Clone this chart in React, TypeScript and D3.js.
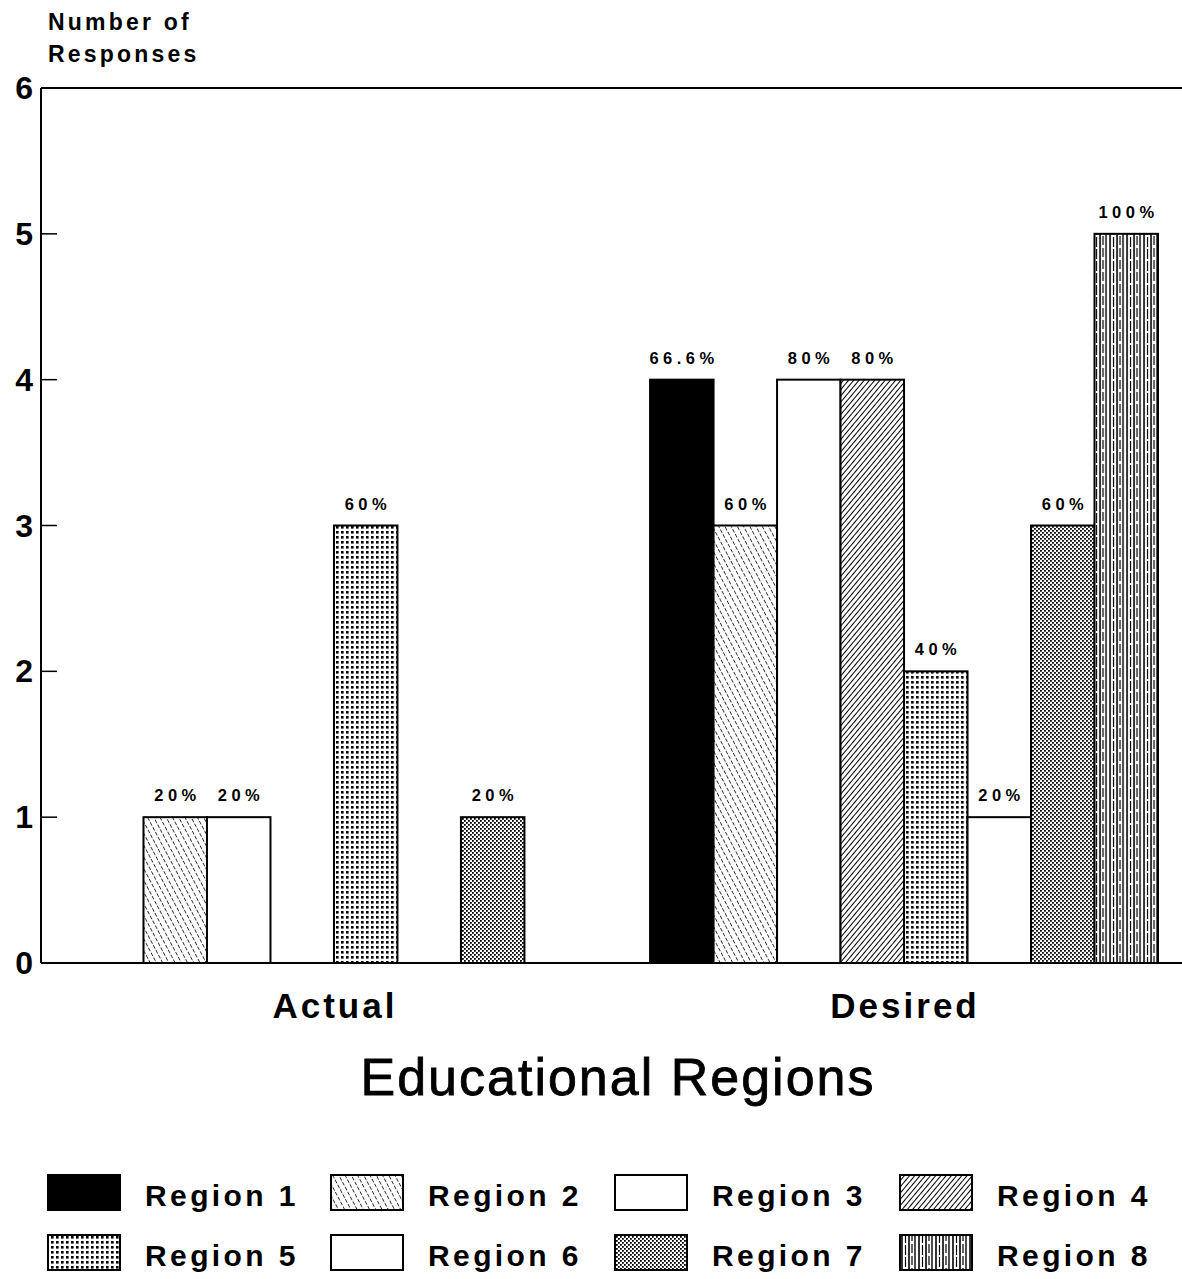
import React from "react";
import * as d3 from "d3";

const groups = ["Actual", "Desired"];
const regions = ["Region 1", "Region 2", "Region 3", "Region 4", "Region 5", "Region 6", "Region 7", "Region 8"];
const actualValues = [0, 1, 1, 0, 3, 0, 1, 0];
const desiredValues = [4, 3, 4, 4, 2, 1, 3, 5];
const actualLabels = ["", "20%", "20%", "", "60%", "", "20%", ""];
const desiredLabels = ["66.6%", "60%", "80%", "80%", "40%", "20%", "60%", "100%"];
const yTicks = [0, 1, 2, 3, 4, 5, 6];
const fills = ["#000", "url(#p2)", "#fff", "url(#p4)", "url(#p5)", "#fff", "url(#p7)", "url(#p8)"];

const W = 1182, H = 1279;
const FONT = "'Liberation Sans', Arial, Helvetica, sans-serif";

export default function App() {
  React.useEffect(() => { document.body.style.margin = "0"; }, []);
  const left = 41, right = 1182, top = 88, bottom = 963;
  const y = d3.scaleLinear().domain([0, 6]).range([bottom, top]);
  const x0 = d3.scaleBand().domain(groups).range([80, 1158]).paddingInner(0.109).paddingOuter(0);
  const x1 = d3.scaleBand().domain(regions).range([0, x0.bandwidth()]).padding(0);
  const data = [
    { g: "Actual", vals: actualValues, labels: actualLabels },
    { g: "Desired", vals: desiredValues, labels: desiredLabels },
  ];
  const legendCols = [48, 331, 615, 900];
  const legendRows = [1175, 1235];
  const labLS = 4.5;
  return (
    <svg width={W} height={H} style={{ display: "block", background: "#fff" }}>
      <defs>
        <pattern id="p2" width="5.5" height="5.5" patternUnits="userSpaceOnUse" patternTransform="rotate(-28)">
          <rect width="5.5" height="5.5" fill="#fff" />
          <line x1="0" y1="0" x2="0" y2="5.5" stroke="#000" strokeWidth="1.5" strokeDasharray="4 1.5" />
        </pattern>
        <pattern id="p4" width="4" height="4" patternUnits="userSpaceOnUse" patternTransform="rotate(40)">
          <rect width="4" height="4" fill="#fff" />
          <line x1="0" y1="0" x2="0" y2="4" stroke="#000" strokeWidth="2" />
        </pattern>
        <pattern id="p5" width="5" height="5" patternUnits="userSpaceOnUse">
          <rect width="5" height="5" fill="#fff" />
          <rect x="1" y="1" width="2.6" height="2.6" fill="#000" />
        </pattern>
        <pattern id="p7" width="4" height="4" patternUnits="userSpaceOnUse">
          <rect width="4" height="4" fill="#fff" />
          <rect x="0" y="0" width="1.8" height="1.8" fill="#000" />
          <rect x="2" y="2" width="1.8" height="1.8" fill="#000" />
        </pattern>
        <pattern id="p8" width="17" height="12" patternUnits="userSpaceOnUse">
          <rect width="17" height="12" fill="#fff" />
          <line x1="1" y1="0" x2="1" y2="12" stroke="#000" strokeWidth="1.6" />
          <line x1="4.5" y1="0" x2="4.5" y2="12" stroke="#000" strokeWidth="1.2" strokeDasharray="7 2" />
          <line x1="8" y1="0" x2="8" y2="12" stroke="#000" strokeWidth="1.6" />
          <line x1="11" y1="0" x2="11" y2="12" stroke="#000" strokeWidth="1.2" strokeDasharray="5 3" />
          <line x1="14" y1="0" x2="14" y2="12" stroke="#000" strokeWidth="1.4" />
        </pattern>
      </defs>

      {/* axis title */}
      <text x={48} y={30} fontFamily={FONT} fontWeight="bold" fontSize={23} letterSpacing={3.2}>Number of</text>
      <text x={48} y={62} fontFamily={FONT} fontWeight="bold" fontSize={23} letterSpacing={3.2}>Responses</text>

      {/* frame */}
      <line x1={left} y1={top} x2={right} y2={top} stroke="#000" strokeWidth={2} />
      <line x1={left} y1={top} x2={left} y2={bottom} stroke="#000" strokeWidth={2} />

      {yTicks.map((t) => (
        <g key={t}>
          {t > 0 && t < 6 && <line x1={left} x2={left + 16} y1={y(t)} y2={y(t)} stroke="#000" strokeWidth={1.5} />}
          <text x={33} y={y(t) + 11} textAnchor="end" fontFamily={FONT} fontWeight="bold" fontSize={32}>{t}</text>
        </g>
      ))}

      {data.map((d) => (
        <g key={d.g} transform={`translate(${x0(d.g)},0)`}>
          {d.vals.map((v, i) =>
            v > 0 ? (
              <rect key={i} x={x1(regions[i])} y={y(v)} width={x1.bandwidth()} height={y(0) - y(v)}
                fill={fills[i]} stroke="#000" strokeWidth={2} />
            ) : null
          )}
          {d.vals.map((v, i) =>
            d.labels[i] ? (
              <text key={"l" + i} x={(x1(regions[i]) as number) + x1.bandwidth() / 2 + labLS / 2} y={y(v) - 16}
                textAnchor="middle" fontFamily={FONT} fontWeight="bold" fontSize={16.5} letterSpacing={labLS}>
                {d.labels[i]}
              </text>
            ) : null
          )}
        </g>
      ))}

      <line x1={left} y1={bottom} x2={right} y2={bottom} stroke="#000" strokeWidth={2} />

      {groups.map((g) => (
        <text key={g} x={(x0(g) as number) + x0.bandwidth() / 2 + 1} y={1018} textAnchor="middle"
          fontFamily={FONT} fontWeight="bold" fontSize={35} letterSpacing={3}>{g}</text>
      ))}

      <text x={618} y={1095} textAnchor="middle" fontFamily={FONT} fontSize={52} letterSpacing={2}
        stroke="#000" strokeWidth={0.8}>Educational Regions</text>

      {regions.map((r, i) => {
        const cx = legendCols[i % 4];
        const ry = legendRows[Math.floor(i / 4)];
        return (
          <g key={r}>
            <rect x={cx} y={ry} width={72} height={35} fill={fills[i]} stroke="#000" strokeWidth={2} />
            <text x={cx + 97} y={ry + 31} fontFamily={FONT} fontWeight="bold" fontSize={30} letterSpacing={3.4}>{r}</text>
          </g>
        );
      })}
    </svg>
  );
}
